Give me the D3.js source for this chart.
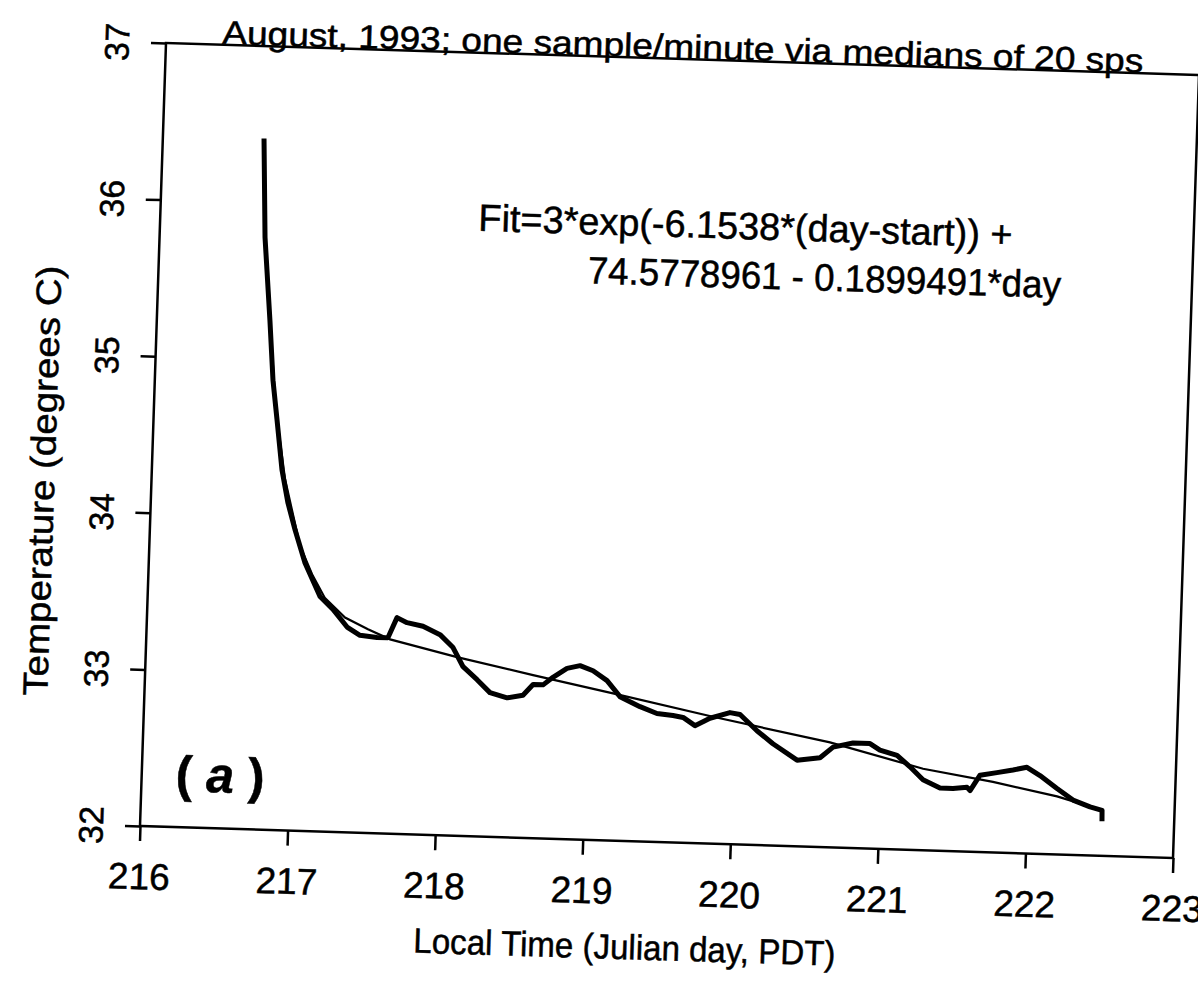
<!DOCTYPE html>
<html>
<head>
<meta charset="UTF-8">
<title>Temperature decay, August 1993</title>
<script src="https://cdn.jsdelivr.net/npm/d3@7"></script>
<style type="text/css">
body, html {
    margin: 0;
    background: #fff;
}
svg {
    display: block;
    font-family: "Liberation Sans", Arial, Helvetica, sans-serif;
}
svg text {
    fill: #000;
    stroke: #000;
    stroke-width: 0.5px;
}
.axis path, .axis line {
    fill: none;
    stroke: #000;
    stroke-width: 2.5px;
}
</style>
</head>
<body>
<div class="graph"></div>

<script type="text/javascript">
// measured trace (Julian day, deg C)
var curveDay = [216.685, 216.714, 216.766, 216.800, 216.836, 216.881, 216.929, 216.983, 217.058, 217.167,
    217.258, 217.357, 217.446, 217.562, 217.636, 217.693, 217.762, 217.871, 217.988, 218.079,
    218.151, 218.249, 218.339, 218.456, 218.563, 218.629, 218.697, 218.762, 218.855, 218.943,
    219.032, 219.129, 219.220, 219.358, 219.474, 219.583, 219.652, 219.734, 219.834, 219.968,
    220.037, 220.155, 220.266, 220.433, 220.588, 220.674, 220.808, 220.923, 220.992, 221.109,
    221.199, 221.290, 221.407, 221.495, 221.590, 221.611, 221.675, 221.789, 221.897, 221.991,
    222.081, 222.199, 222.310, 222.427, 222.509, 222.511];
var curveTemp = [36.41, 35.78, 35.25, 34.87, 34.62, 34.30, 34.09, 33.92, 33.71, 33.50,
    33.42, 33.31, 33.26, 33.25, 33.25, 33.38, 33.35, 33.33, 33.28, 33.20,
    33.08, 33.00, 32.92, 32.89, 32.91, 32.98, 32.98, 33.03, 33.09, 33.11,
    33.08, 33.02, 32.92, 32.86, 32.82, 32.81, 32.80, 32.75, 32.80, 32.84,
    32.83, 32.73, 32.65, 32.55, 32.57, 32.64, 32.67, 32.67, 32.63, 32.60,
    32.53, 32.45, 32.40, 32.40, 32.41, 32.39, 32.49, 32.51, 32.53, 32.55,
    32.50, 32.42, 32.35, 32.31, 32.29, 32.22];

// fit curve
var fitDay = [216.685, 216.714, 216.766, 216.827, 216.904, 217.020, 217.108, 217.201, 217.341, 217.499,
    217.651, 218.108, 218.627, 219.172, 219.854, 220.652, 221.288, 221.764, 222.201, 222.474];
var fitTemp = [36.40, 35.78, 35.25, 34.68, 34.24, 33.82, 33.64, 33.49, 33.37, 33.30,
    33.24, 33.14, 33.04, 32.94, 32.81, 32.67, 32.52, 32.45, 32.37, 32.30];

var xTicks = [216, 217, 218, 219, 220, 221, 222, 223];
var yTicks = [32, 33, 34, 35, 36, 37];

var titleText = "August, 1993; one sample/minute via medians of 20 sps";
var fitLine1 = "Fit=3*exp(-6.1538*(day-start)) +";
var fitLine2 = "74.5778961 - 0.1899491*day";
var xLabel = "Local Time (Julian day, PDT)";
var yLabel = "Temperature (degrees C)";

var width = 1033,
    height = 783;

var x = d3.scaleLinear().domain([216, 223]).range([0, width]),
    y = d3.scaleLinear().domain([32, 37]).range([height, 0]);

var svg = d3.select(".graph")
    .append("svg")
    .attr("width", 1198)
    .attr("height", 995);

svg.append("rect")
    .attr("width", 1198)
    .attr("height", 995)
    .attr("fill", "#fff");

// the scanned page is slightly skewed; reproduce it with one affine transform
var g = svg.append("g")
    .attr("transform", "matrix(1,0.031,-0.0332,1,166,43)");

//frame
g.append("rect")
    .attr("x", 0)
    .attr("y", 0)
    .attr("width", width)
    .attr("height", height)
    .attr("fill", "none")
    .attr("stroke", "#000")
    .attr("stroke-width", 2.5);

//axes
var xAxis = d3.axisBottom(x)
    .tickValues(xTicks)
    .tickSize(15)
    .tickPadding(22)
    .tickFormat(d3.format("d"));

var yAxis = d3.axisLeft(y)
    .tickValues(yTicks)
    .tickSize(15)
    .tickFormat(d3.format("d"));

g.append("g")
    .attr("class", "x axis")
    .attr("transform", "translate(0," + height + ")")
    .call(xAxis)
    .call(function (s) { s.select(".domain").remove(); })
    .selectAll("text")
    .attr("fill", "#000")
    .style("font-size", "37px")
    .style("font-family", "Liberation Sans, Arial, sans-serif");

g.append("g")
    .attr("class", "y axis")
    .call(yAxis)
    .call(function (s) { s.select(".domain").remove(); })
    .selectAll("text")
    .attr("fill", "#000")
    .attr("x", null)
    .attr("dy", null)
    .attr("text-anchor", "middle")
    .attr("transform", "translate(-37,0) rotate(-90)")
    .style("font-size", "34px")
    .style("font-family", "Liberation Sans, Arial, sans-serif");

// data lines
var line = d3.line()
    .x(function (d) { return x(d[0]); })
    .y(function (d) { return y(d[1]); });

var fitData = d3.zip(fitDay, fitTemp);
var curveData = d3.zip(curveDay, curveTemp);

g.append("path")
    .datum(fitData)
    .attr("fill", "none")
    .attr("stroke", "#000")
    .attr("stroke-width", 2.2)
    .attr("d", line);

g.append("path")
    .datum(curveData)
    .attr("fill", "none")
    .attr("stroke", "#000")
    .attr("stroke-width", 5)
    .attr("stroke-linejoin", "round")
    .attr("d", line);

// texts
g.append("text")
    .attr("x", 56)
    .attr("y", -1)
    .attr("textLength", 921)
    .attr("lengthAdjust", "spacingAndGlyphs")
    .style("font-size", "33px")
    .text(titleText);

g.append("text")
    .attr("x", 318)
    .attr("y", 178)
    .attr("textLength", 534)
    .attr("lengthAdjust", "spacingAndGlyphs")
    .style("font-size", "38px")
    .text(fitLine1);

g.append("text")
    .attr("x", 429)
    .attr("y", 227)
    .attr("textLength", 473)
    .attr("lengthAdjust", "spacingAndGlyphs")
    .style("font-size", "38px")
    .text(fitLine2);

var panel = g.append("text")
    .attr("x", 34)
    .attr("y", 747)
    .style("font-size", "50px")
    .style("font-weight", "bold");
panel.append("tspan").text("( ");
panel.append("tspan").style("font-style", "italic").text("a");
panel.append("tspan").text(" )");

g.append("text")
    .attr("x", 488)
    .attr("y", 901)
    .attr("text-anchor", "middle")
    .attr("textLength", 422)
    .attr("lengthAdjust", "spacingAndGlyphs")
    .style("font-size", "35px")
    .text(xLabel);

g.append("text")
    .attr("transform", "translate(-97,441) rotate(-90)")
    .attr("text-anchor", "middle")
    .attr("textLength", 430)
    .attr("lengthAdjust", "spacingAndGlyphs")
    .style("font-size", "35px")
    .text(yLabel);
</script>
</body>
</html>
